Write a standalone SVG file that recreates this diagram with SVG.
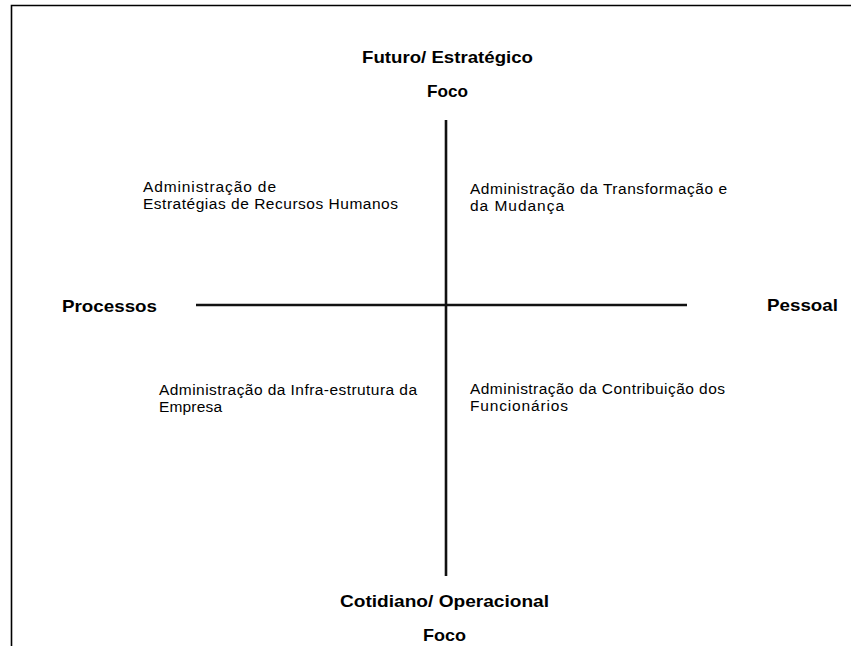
<svg xmlns="http://www.w3.org/2000/svg" width="851" height="646" viewBox="0 0 851 646">
<style>
.b{font-family:"Liberation Sans",Arial,sans-serif;font-weight:bold;font-size:17px;fill:#000}
.r{font-family:"Liberation Sans",Arial,sans-serif;font-size:15.5px;fill:#000}
.ax{stroke:#111;stroke-width:2.6;fill:none}
.fr{stroke:#000;stroke-width:1.6;fill:none}
</style>
<rect width="851" height="646" fill="#fff"/>
<path class="fr" d="M11.5,646 V5.5 H851"/>
<g id="connectors">
<line class="ax" x1="196" y1="305" x2="687" y2="305"/>
<line class="ax" x1="446" y1="120" x2="446" y2="576"/>
</g>
<g id="top">
<text class="b" x="362" y="63" textLength="171" lengthAdjust="spacingAndGlyphs">Futuro/ Estratégico</text>
<text class="b" x="427" y="97" textLength="41" lengthAdjust="spacingAndGlyphs">Foco</text>
</g>
<g id="bottom">
<text class="b" x="340" y="607" textLength="209" lengthAdjust="spacingAndGlyphs">Cotidiano/ Operacional</text>
<text class="b" x="423" y="641" textLength="43" lengthAdjust="spacingAndGlyphs">Foco</text>
</g>
<g id="left">
<text class="b" x="62" y="312" textLength="95" lengthAdjust="spacingAndGlyphs">Processos</text>
</g>
<g id="right">
<text class="b" x="767" y="311" textLength="71" lengthAdjust="spacingAndGlyphs">Pessoal</text>
</g>
<g id="q-top-left">
<text class="r" x="143" y="192" textLength="133" lengthAdjust="spacing">Administração de</text>
<text class="r" x="143" y="209" textLength="255" lengthAdjust="spacing">Estratégias de Recursos Humanos</text>
</g>
<g id="q-top-right">
<text class="r" x="470" y="194" textLength="257" lengthAdjust="spacing">Administração da Transformação e</text>
<text class="r" x="470" y="211" textLength="94" lengthAdjust="spacing">da Mudança</text>
</g>
<g id="q-bottom-left">
<text class="r" x="159" y="395" textLength="258" lengthAdjust="spacing">Administração da Infra-estrutura da</text>
<text class="r" x="159" y="412" textLength="63" lengthAdjust="spacing">Empresa</text>
</g>
<g id="q-bottom-right">
<text class="r" x="470" y="394" textLength="255" lengthAdjust="spacing">Administração da Contribuição dos</text>
<text class="r" x="470" y="411" textLength="98" lengthAdjust="spacing">Funcionários</text>
</g>
</svg>
